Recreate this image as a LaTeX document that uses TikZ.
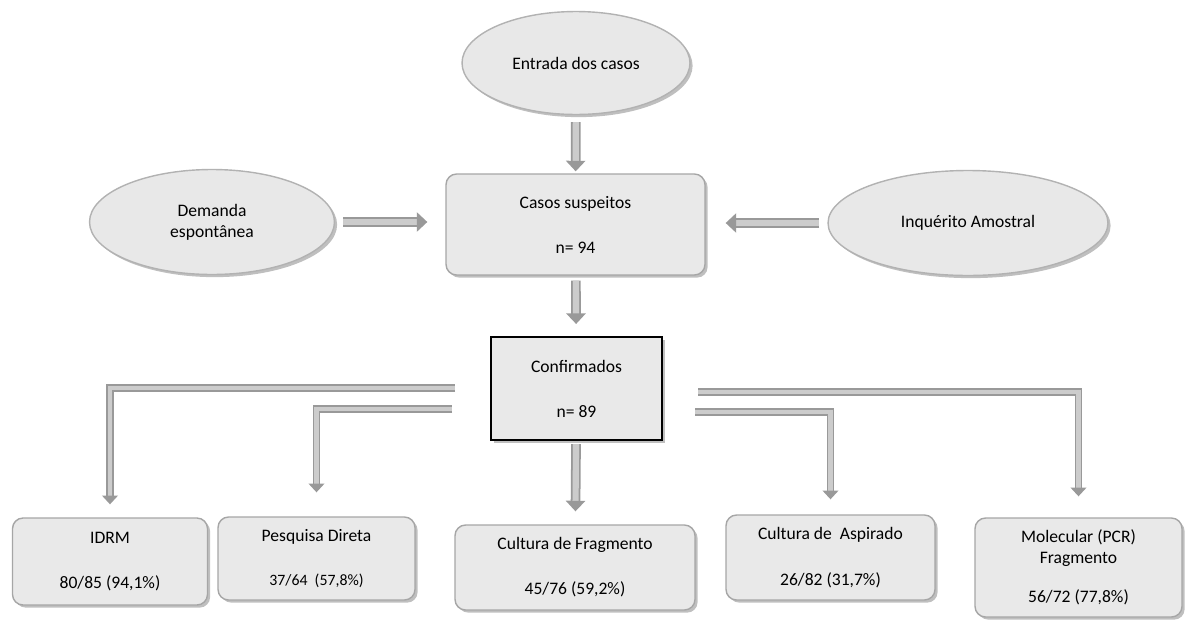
\documentclass[tikz,border=0pt]{standalone}
\usepackage{fontspec}
\setmainfont{Carlito}
\usetikzlibrary{shapes.geometric,shadows,arrows.meta}

\tikzset{
  caixa/.style={rectangle, rounded corners=6pt, draw=gray!70, line width=0.8pt,
    fill=gray!17, drop shadow={opacity=0.5,shadow xshift=1.5pt,shadow yshift=-1.5pt},
    align=center, inner sep=2pt},
  elipse/.style={ellipse, draw=gray!60, line width=0.8pt, fill=gray!18,
    drop shadow={opacity=0.5,shadow xshift=1.5pt,shadow yshift=-1.5pt},
    align=center, inner sep=0pt},
  seta/.style={draw=gray!80, line width=1pt, double=gray!40, double distance=3.5pt,
    -{Triangle[width=11pt,length=6pt]}},
  barra/.style={draw=gray!80, line width=0.9pt, double=gray!40, double distance=2.5pt,
    -{Triangle[width=9pt,length=5pt]}},
}

\begin{document}
\begin{tikzpicture}[x=0.02cm,y=-0.02cm,font=\fontsize{10}{12}\selectfont]
\useasboundingbox (0,0) rectangle (1192,619);

% topo
\node (entrada) at (576,63) [elipse,minimum width=4.56cm,minimum height=2.06cm] {Entrada dos casos};
\node (suspeitos) at (575.5,224.5) [caixa,minimum width=5.18cm,minimum height=2.02cm] {Casos suspeitos\\[0.48cm]n= 94};
\node (demanda) at (212,222) [elipse,minimum width=4.9cm,minimum height=2.1cm] {Demanda\\espontânea};
\node (inquerito) at (968,223) [elipse,minimum width=5.6cm,minimum height=2.1cm] {Inquérito Amostral};
\node (confirmados) at (576.5,388.5) [caixa,sharp corners,draw=black,line width=1.2pt,minimum width=3.42cm,minimum height=2.06cm] {Confirmados\\[0.48cm]n= 89};

% exames
\node (idrm) at (110,561.5) [caixa,minimum width=3.9cm,minimum height=1.74cm] {IDRM\\[0.48cm]80/85 (94,1\%)};
\node (pesquisa) at (316.5,558.5) [caixa,minimum width=3.94cm,minimum height=1.66cm] {Pesquisa Direta\\[0.46cm]{\small 37/64\ \ (57,8\%)}};
\node (fragmento) at (575,567.5) [caixa,minimum width=4.8cm,minimum height=1.7cm] {Cultura de Fragmento\\[0.48cm]45/76 (59,2\%)};
\node (aspirado) at (830.5,557.5) [caixa,minimum width=4.18cm,minimum height=1.7cm] {Cultura de\ \ Aspirado\\[0.5cm]26/82 (31,7\%)};
\node (molecular) at (1078.5,567.5) [caixa,minimum width=4.14cm,minimum height=1.98cm] {Molecular (PCR)\\Fragmento\\[0.36cm]56/72 (77,8\%)};

% setas principais
\draw[seta,shorten <=0.14cm,shorten >=0.04cm] (entrada) -- (suspeitos);
\draw[seta,shorten <=0.1cm,shorten >=0.24cm] (suspeitos) -- (confirmados);
\draw[seta,shorten <=0.16cm,shorten >=0.36cm] (demanda) -- (suspeitos.west |- demanda);
\draw[seta,shorten <=0.16cm,shorten >=0.4cm] (inquerito) -- (suspeitos.east |- inquerito);
\draw[seta,shorten <=0.06cm,shorten >=0.26cm] (confirmados) -- (fragmento);

% ramificacoes
\coordinate (e1) at (455,388);
\coordinate (e2) at (452,409);
\coordinate (d1) at (698,392);
\coordinate (d2) at (695,412);
\draw[barra,shorten >=0.26cm] (e1) -| (idrm.north);
\draw[barra,shorten >=0.48cm] (e2) -| (pesquisa.north);
\draw[barra,shorten >=0.3cm] (d2) -| (aspirado.north);
\draw[barra,shorten >=0.42cm] (d1) -| (molecular.north);
\end{tikzpicture}
\end{document}
